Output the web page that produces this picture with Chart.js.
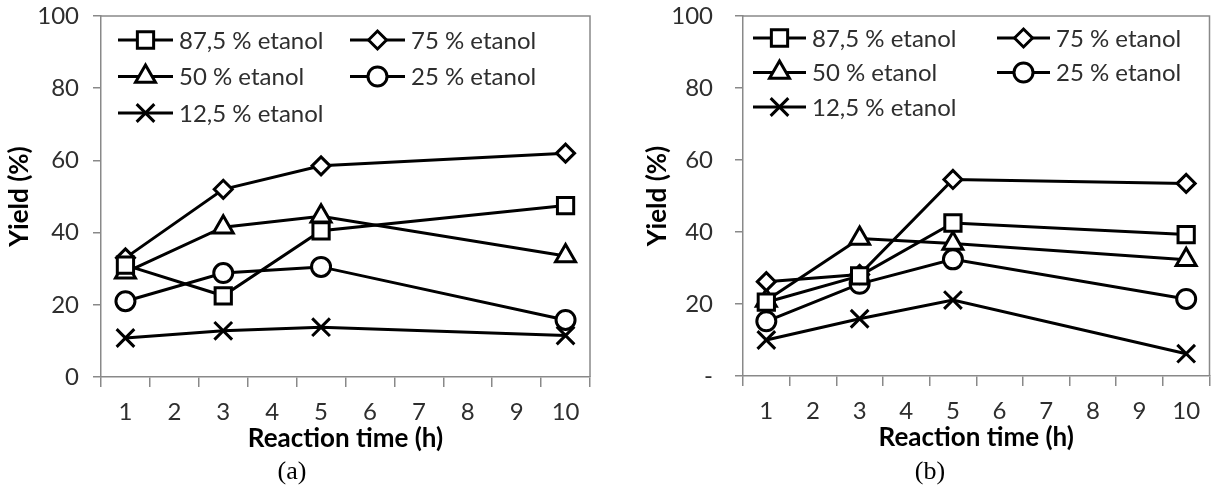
<!DOCTYPE html>
<html lang="en">
<head>
    <meta charset="UTF-8">
    <title>Yield vs reaction time</title>
    <script src="https://cdn.jsdelivr.net/npm/chart.js@4.4.0/dist/chart.umd.min.js"></script>
    <style>
        html, body { margin: 0; padding: 0; background: #fff; }
        body { width: 1225px; height: 485px; position: relative; overflow: hidden; }
        .panel { position: absolute; top: 0; height: 485px; }
        #wrap-a { left: 0; width: 612px; }
        #wrap-b { left: 612px; width: 613px; }
        .caption { position: absolute; top: 456px; font: 26px "Liberation Serif", "Times New Roman", serif; line-height: 30px; color: #000; transform: translateX(-50%); }
    </style>
</head>
<body>
    <div class="panel" id="wrap-a"><canvas id="chart-a"></canvas></div>
    <div class="panel" id="wrap-b"><canvas id="chart-b"></canvas></div>
    <div class="caption" style="left: 292px;">(a)</div>
    <div class="caption" style="left: 930px;">(b)</div>

    <script>
        // category axis 1..10 h, measurements only at 1, 3, 5 and 10 h
        const xLabels = ['1', '2', '3', '4', '5', '6', '7', '8', '9', '10'];
        const times = ['1', '3', '5', '10'];
        const seriesLabels = ['87,5 % etanol', '75 % etanol', '50 % etanol', '25 % etanol', '12,5 % etanol'];
        const yTicks = [0, 20, 40, 60, 80, 100];

        // panel (a)
        const a_875 = [31, 22.5, 40.5, 47.5];
        const a_75  = [33, 52, 58.5, 62];
        const a_50  = [29, 41.5, 44.5, 33.5];
        const a_25  = [21, 28.8, 30.5, 15.8];
        const a_125 = [10.8, 12.8, 13.8, 11.5];

        // panel (b)
        const b_875 = [20.5, 27.8, 42.5, 39.3];
        const b_75  = [26.2, 28.2, 54.6, 53.5];
        const b_50  = [21, 38.2, 36.8, 32.3];
        const b_25  = [15.2, 25.6, 32.4, 21.4];
        const b_125 = [10, 15.9, 21.1, 6.2];

        const markers = [
            { style: 'rect', radius: 11.5 },
            { style: 'rectRot', radius: 9 },
            { style: 'triangle', radius: 11.5 },
            { style: 'circle', radius: 9.5 },
            { style: 'crossRot', radius: 12.5 }
        ];

        const AXIS_GREY = '#898989';
        const TEXT_GREY = '#2e2e2e';
        const FONT = 'Lato, "Open Sans", sans-serif';
        const FONT_SIZE = 24;
        const TITLE_SIZE = 26;

        function buildDatasets(seriesList) {
            return seriesList.map((vals, i) => ({
                label: seriesLabels[i],
                data: vals.map((v, j) => ({ x: times[j], y: v })),
                borderColor: '#000',
                borderWidth: 3,
                pointStyle: markers[i].style,
                pointRadius: markers[i].radius,
                pointHoverRadius: markers[i].radius,
                pointBorderWidth: 3,
                pointBorderColor: '#000',
                pointBackgroundColor: '#fff',
                tension: 0,
                fill: false
            }));
        }

        // plot area frame (top + right) like the spreadsheet original
        const plotFrame = {
            id: 'plotFrame',
            beforeDatasetsDraw(chart) {
                const { ctx, chartArea: a } = chart;
                ctx.save();
                ctx.strokeStyle = AXIS_GREY;
                ctx.lineWidth = 1.5;
                ctx.beginPath();
                ctx.moveTo(a.left, a.top);
                ctx.lineTo(a.right, a.top);
                ctx.lineTo(a.right, a.bottom);
                ctx.stroke();
                ctx.restore();
            }
        };

        // two-column legend drawn inside the plot area, row by row
        const insideLegend = {
            id: 'insideLegend',
            afterDatasetsDraw(chart, args, opts) {
                const { ctx, chartArea: area } = chart;
                ctx.save();
                chart.data.datasets.forEach((ds, i) => {
                    const col = i % 2, row = Math.floor(i / 2);
                    const x0 = area.left + opts.left + col * opts.colWidth;
                    const y0 = area.top + opts.top + row * opts.rowHeight;
                    ctx.strokeStyle = '#000';
                    ctx.lineWidth = 3;
                    ctx.beginPath();
                    ctx.moveTo(x0, y0);
                    ctx.lineTo(x0 + opts.lineLen, y0);
                    ctx.stroke();

                    ctx.fillStyle = '#fff';
                    Chart.helpers.drawPoint(ctx, {
                        pointStyle: ds.pointStyle,
                        radius: ds.pointRadius,
                        rotation: 0,
                        borderWidth: 3
                    }, x0 + opts.lineLen / 2, y0);

                    ctx.fillStyle = TEXT_GREY;
                    ctx.font = FONT_SIZE + 'px ' + FONT;
                    ctx.textAlign = 'left';
                    ctx.textBaseline = 'middle';
                    ctx.fillText(ds.label, x0 + opts.lineLen + 6, y0 + 1);
                });
                ctx.restore();
            }
        };

        function makeChart(canvasId, seriesList, cfg) {
            return new Chart(document.getElementById(canvasId), {
                type: 'line',
                data: { labels: xLabels, datasets: buildDatasets(seriesList) },
                options: {
                    responsive: true,
                    maintainAspectRatio: false,
                    animation: false,
                    layout: { padding: cfg.padding },
                    plugins: {
                        legend: { display: false },
                        tooltip: { enabled: false },
                        insideLegend: cfg.legend
                    },
                    scales: {
                        x: {
                            type: 'category',
                            offset: true,
                            grid: { offset: true, drawOnChartArea: false, drawTicks: true, tickLength: 10, color: AXIS_GREY, lineWidth: 1.5 },
                            border: { color: AXIS_GREY, width: 1.5 },
                            ticks: { autoSkip: false, maxRotation: 0, padding: 11, color: TEXT_GREY, font: { family: FONT, size: FONT_SIZE } },
                            title: { display: true, text: 'Reaction time (h)', color: '#000', padding: { top: 0, bottom: 0 }, font: { family: FONT, size: TITLE_SIZE, weight: 'bold' } },
                            afterFit: s => { s.height = 77; }
                        },
                        y: {
                            min: 0,
                            max: 100,
                            afterBuildTicks: s => { s.ticks = yTicks.map(v => ({ value: v })); },
                            grid: { drawOnChartArea: false, drawTicks: true, tickLength: 8, color: AXIS_GREY, lineWidth: 1.5 },
                            border: { color: AXIS_GREY, width: 1.5 },
                            ticks: {
                                padding: cfg.yPad,
                                color: TEXT_GREY,
                                font: { family: FONT, size: FONT_SIZE },
                                callback: v => (v === 0 && cfg.zeroDash) ? '-' : v
                            },
                            title: { display: true, text: 'Yield (%)', color: '#000', padding: { top: cfg.yTitlePad, bottom: 0 }, font: { family: FONT, size: TITLE_SIZE, weight: 'bold' } },
                            afterFit: s => {
                                s.width = cfg.yWidth;
                                s.paddingTop = 0;
                                s.paddingBottom = 0;
                            }
                        }
                    }
                },
                plugins: [plotFrame, insideLegend]
            });
        }

        makeChart('chart-a', [a_875, a_75, a_50, a_25, a_125], {
            padding: { top: 16, right: 22, bottom: 31, left: 0 },
            yWidth: 101,
            yPad: 14,
            yTitlePad: 4,
            zeroDash: false,
            legend: { left: 17, top: 24, colWidth: 232, rowHeight: 36.5, lineLen: 55 }
        });

        makeChart('chart-b', [b_875, b_75, b_50, b_25, b_125], {
            padding: { top: 16, right: 0, bottom: 32, left: 0 },
            yWidth: 131,
            yPad: 22,
            yTitlePad: 30,
            zeroDash: true,
            legend: { left: 10, top: 22, colWidth: 244, rowHeight: 34.5, lineLen: 53 }
        });
    </script>
</body>
</html>
